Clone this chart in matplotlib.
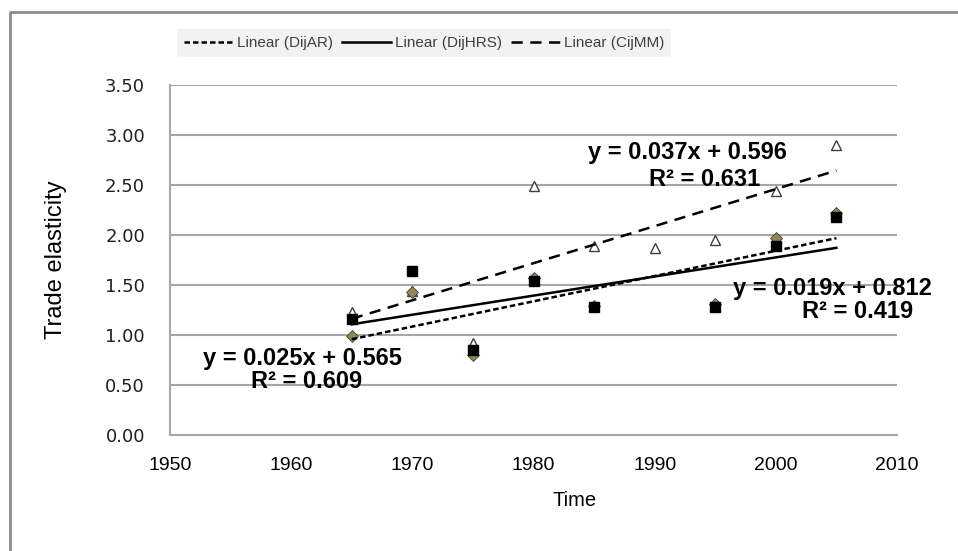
import numpy as np
import matplotlib
matplotlib.use("Agg")
from matplotlib import pyplot as plt
from matplotlib.lines import Line2D

plt.rcParams['font.family'] = ['Liberation Sans', 'DejaVu Sans']

# data
years_mm = [1965, 1970, 1975, 1980, 1985, 1990, 1995, 2000, 2005]
cij_mm = [1.23, 1.44, 0.92, 2.49, 1.89, 1.87, 1.95, 2.44, 2.90]

years_d = [1965, 1970, 1975, 1980, 1985, 1995, 2000, 2005]
dij_hrs = [1.16, 1.64, 0.85, 1.54, 1.28, 1.28, 1.89, 2.18]
dij_ar = [0.99, 1.43, 0.80, 1.57, 1.29, 1.31, 1.97, 2.22]

yticks = [0.0, 0.5, 1.0, 1.5, 2.0, 2.5, 3.0, 3.5]
xticks = [1950, 1960, 1970, 1980, 1990, 2000, 2010]

fig = plt.figure(figsize=(9.58, 5.51), dpi=100)
ax = fig.add_axes([170 / 958, 1 - 435 / 551, 727 / 958, 350 / 551])

# outer frame of the chart area
fig.add_artist(Line2D([10 / 958, 10 / 958, 1.0], [0.0, 1 - 12 / 551, 1 - 12 / 551],
                      transform=fig.transFigure, color='#8c8c8c', lw=2))

# points
ax.plot(years_mm, cij_mm, '^', ms=6.5, mfc='white', mec='#404040', mew=1, zorder=3)
ax.plot(years_d, dij_ar, 'D', ms=6, mfc='#958553', mec='#404040', mew=0.6, zorder=4)
ax.plot(years_d, dij_hrs, 's', ms=7.5, mfc='black', mec='black', zorder=5)

# trendlines
def trend(x, y):
    p = np.polyfit(x, y, 1)
    xs = np.array([x[0], x[-1]])
    return xs, np.polyval(p, xs)

xs, ys = trend(years_d, dij_ar)
ax.plot(xs, ys, color='black', lw=1.8, ls=(0, (2.2, 1.2)), zorder=6, label='Linear (DijAR)')
xs, ys = trend(years_d, dij_hrs)
ax.plot(xs, ys, color='black', lw=1.8, ls='-', zorder=6, label='Linear (DijHRS)')
xs, ys = trend(years_mm, cij_mm)
ax.plot(xs, ys, color='black', lw=1.8, ls=(0, (4.5, 3)), zorder=6, label='Linear (CijMM)')

ax.set_xlim(1950, 2010)
ax.set_ylim(0, 3.5)
ax.set_xticks(xticks)
ax.set_yticks(yticks)
ax.set_yticklabels(['%.2f' % v for v in yticks], fontfamily='DejaVu Sans', fontsize=13, color='#202020')
ax.set_xticklabels([str(v) for v in xticks], fontsize=14)
ax.tick_params(axis='both', length=0)
ax.tick_params(axis='x', pad=16)
ax.tick_params(axis='y', pad=18)
ax.grid(axis='y', color='#a6a6a6', lw=1.5)
ax.set_axisbelow(True)
for s in ['top', 'right']:
    ax.spines[s].set_visible(False)
for s in ['left', 'bottom']:
    ax.spines[s].set_color('#a6a6a6')
    ax.spines[s].set_linewidth(1.5)

ax.set_ylabel('Trade elasticity', fontsize=17)
ax.yaxis.set_label_coords((67 - 170) / 727, (435 - 260) / 350)
ax.set_xlabel('Time', fontsize=14.5)
ax.xaxis.set_label_coords((575 - 170) / 727, -(491 - 435) / 350)

# trendline equations
eq = dict(fontsize=17, fontweight='bold', ha='center', va='center', transform=fig.transFigure)
fig.text(687 / 958, 1 - 152 / 551, 'y = 0.037x + 0.596', **eq)
fig.text(705 / 958, 1 - 180 / 551, 'R² = 0.631', **eq)
fig.text(832 / 958, 1 - 288 / 551, 'y = 0.019x + 0.812', **eq)
fig.text(858 / 958, 1 - 312 / 551, 'R² = 0.419', **eq)
fig.text(302 / 958, 1 - 358 / 551, 'y = 0.025x + 0.565', **eq)
fig.text(307 / 958, 1 - 382 / 551, 'R² = 0.609', **eq)

leg = fig.legend(loc='center', bbox_to_anchor=(424 / 958, 1 - 43 / 551), ncol=3,
                 frameon=True, fancybox=False, fontsize=11, handlelength=3.2,
                 handletextpad=0.25, columnspacing=0.6, borderpad=0.45)
leg.get_frame().set_facecolor('#f2f2f2')
leg.get_frame().set_edgecolor('none')
leg.get_frame().set_alpha(1)
for t in leg.get_texts():
    t.set_color('#404040')

plt.savefig('out.png', dpi=100)
